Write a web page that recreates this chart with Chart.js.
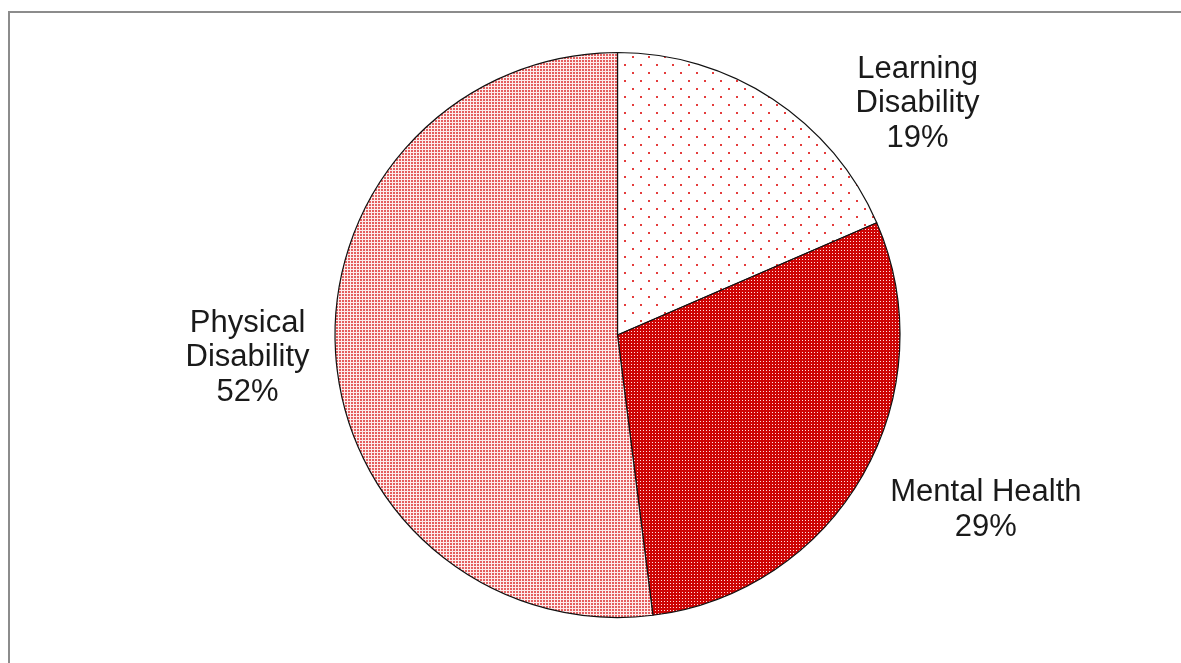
<!DOCTYPE html>
<html>
<head>
<meta charset="utf-8">
<script src="https://cdn.jsdelivr.net/npm/chart.js@4"></script>
<style>
  html, body { margin: 0; padding: 0; background: #fff; overflow: hidden; }
  #frame {
    position: absolute; left: 8px; top: 11px;
    width: 1300px; height: 800px;
    border-left: 2px solid #8c8c8c; border-top: 2px solid #8c8c8c;
  }
  #pie { position: absolute; left: 0; top: 0; }
</style>
</head>
<body>
<div id="frame"></div>
<canvas id="pie" width="1181" height="663"></canvas>
<script>
// -------- DATA --------
const categories = ["Learning Disability", "Mental Health", "Physical Disability"];
const labelLines = [["Learning", "Disability"], ["Mental Health"], ["Physical", "Disability"]];
const shares = [18.5, 29.5, 52.0];

// label offsets from the slice edge (mid angle), in px
const labelOffsets = [[145, 5], [123, 35], [-88, 5]];

// -------- PATTERNS --------
function makePattern(size, bg, dots, dotColor) {
  const c = document.createElement("canvas");
  c.width = size;
  c.height = size;
  const g = c.getContext("2d");
  g.fillStyle = bg;
  g.fillRect(0, 0, size, size);
  g.fillStyle = dotColor;
  dots.forEach(([x, y, w, h]) => g.fillRect(x, y, w, h));
  return g.createPattern(c, "repeat");
}

const ctx = document.getElementById("pie").getContext("2d");

// sparse dots for learning, dense inverse dots for mental health, fine dots for physical
const fills = [
  makePattern(16, "#ffffff", [[0, 0, 2, 2], [8, 8, 2, 2]], "rgb(228,60,60)"),
  makePattern(3, "rgb(205,5,5)", [[1, 1, 1, 1]], "rgb(255,225,225)"),
  makePattern(3, "rgb(253,236,236)", [[0, 0, 2, 2]], "rgb(228,95,95)")
];

// -------- LABEL PLUGIN --------
const outsideLabels = {
  id: "outsideLabels",
  afterDatasetsDraw(chart) {
    const g = chart.ctx;
    const meta = chart.getDatasetMeta(0);
    g.save();
    g.font = "31px 'Liberation Sans', Arial, sans-serif";
    g.fillStyle = "#1a1a1a";
    g.textAlign = "center";
    g.textBaseline = "middle";
    const lineH = 34.5;
    const pct = [19, 29, 52]; // as printed on the chart
    meta.data.forEach((arc, i) => {
      const p = arc.getProps(["x", "y", "startAngle", "endAngle", "outerRadius"], true);
      const mid = (p.startAngle + p.endAngle) / 2;
      const ex = p.x + Math.cos(mid) * p.outerRadius;
      const ey = p.y + Math.sin(mid) * p.outerRadius;
      const lines = labelLines[i].concat([pct[i] + "%"]);
      const cx = ex + labelOffsets[i][0];
      const cy = ey + labelOffsets[i][1];
      const top = cy - (lines.length - 1) * lineH / 2;
      lines.forEach((t, k) => g.fillText(t, cx, top + k * lineH));
    });
    g.restore();
  }
};

// -------- CHART --------
new Chart(ctx, {
  type: "pie",
  data: {
    labels: categories,
    datasets: [{
      data: shares,
      backgroundColor: fills,
      borderColor: "#111111",
      borderWidth: 1.2
    }]
  },
  options: {
    responsive: false,
    animation: false,
    radius: 282.5,
    layout: { padding: { top: 45, bottom: 38, left: 217.5, right: 163.5 } },
    plugins: {
      legend: { display: false },
      tooltip: { enabled: false }
    }
  },
  plugins: [outsideLabels]
});
</script>
</body>
</html>
